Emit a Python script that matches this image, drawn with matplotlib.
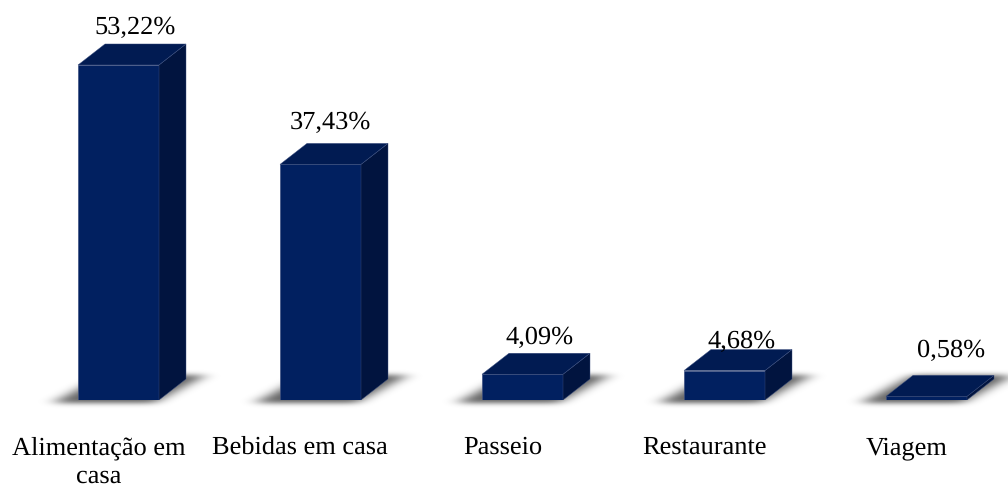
import matplotlib
matplotlib.use('Agg')
import matplotlib.pyplot as plt
import numpy as np
from matplotlib.patches import Polygon

# Data
categorias = ['Alimentação em\ncasa', 'Bebidas em casa', 'Passeio', 'Restaurante', 'Viagem']
valores = [53.22, 37.43, 4.09, 4.68, 0.58]
rotulos = ['53,22%', '37,43%', '4,09%', '4,68%', '0,58%']

# label offsets from the front top of each bar, in px
off_x = [17, 10, 17, 17, 25]
off_y = [37, 42, 37, 29, 46]

plt.rcParams['font.family'] = ['Liberation Serif', 'DejaVu Serif']
plt.rcParams['text.hinting'] = 'no_hinting'

W, H = 1008, 487
BASE = 400          # baseline in px from the top
fig = plt.figure(figsize=(W / 100, H / 100), dpi=100, facecolor='white')
ax = fig.add_axes([0, (H - BASE) / H, 1, BASE / H])

px_x = 202          # px per category
px_y = 6.295        # px per percentage point
xlim = (-118.5 / px_x, (W - 118.5) / px_x)
ylim = (0, BASE / px_y)
larg = 81 / px_x / 2
dx = 27 / px_x
dy = 21 / px_y

frente = '#012060'
topo = '#011b52'
lado = '#01143f'
borda = '#3c4f80'

# floor shadow: parallelograms behind each bar, blurred with a gaussian
topo_sombra, baixo_sombra = 32, 16
linhas = np.arange(-baixo_sombra, topo_sombra) + 0.5
colunas = np.arange(W) + 0.5
mascara = np.zeros((len(linhas), W))
for i in range(len(valores)):
    centro = (i - xlim[0]) * px_x
    for r, h in enumerate(linhas):
        if -3 <= h <= 25:
            esq = centro - 60 + h * 1.85
            dir_ = centro + 41 + h * 1.85
            mascara[r, (colunas > esq) & (colunas < dir_)] = 1


def blur(m, sigma, eixo):
    n = np.arange(-int(3 * sigma), int(3 * sigma) + 1)
    g = np.exp(-n ** 2 / (2 * sigma ** 2))
    g = g / g.sum()
    return np.apply_along_axis(lambda a: np.convolve(a, g, mode='same'), eixo, m)


mascara = blur(blur(mascara, 8, 1), 2.5, 0)
rgba = np.zeros(mascara.shape + (4,))
rgba[..., 3] = mascara * 0.62
ax.imshow(rgba, origin='lower', aspect='auto', interpolation='bilinear', clip_on=False, zorder=1,
          extent=(xlim[0], xlim[1], -baixo_sombra / px_y, topo_sombra / px_y))

for i, v in enumerate(valores):
    ax.add_patch(Polygon([(i - larg, 0), (i + larg, 0), (i + larg, v), (i - larg, v)],
                         closed=True, fc=frente, ec=borda, lw=0.5, zorder=3))
    ax.add_patch(Polygon([(i + larg, 0), (i + larg + dx, dy), (i + larg + dx, v + dy), (i + larg, v)],
                         closed=True, fc=lado, ec=borda, lw=0.3, zorder=3))
    ax.add_patch(Polygon([(i - larg, v), (i + larg, v), (i + larg + dx, v + dy), (i - larg + dx, v + dy)],
                         closed=True, fc=topo, ec=borda, lw=0.3, zorder=3))
    ax.annotate(rotulos[i], (i, v), xytext=(off_x[i] * 0.72, off_y[i] * 0.72),
                textcoords='offset points', ha='center', va='center',
                fontsize=19, color='black', zorder=4)

ax.set_xlim(xlim)
ax.set_ylim(ylim)
ax.set_xticks([i - 0.1 for i in range(len(categorias))])
ax.set_xticklabels(categorias, fontsize=19, color='black', linespacing=1.3)
ax.tick_params(axis='x', length=0, pad=26)
ax.set_yticks([])
for s in ax.spines.values():
    s.set_visible(False)
ax.patch.set_alpha(0)

fig.savefig('out.png', dpi=100)
